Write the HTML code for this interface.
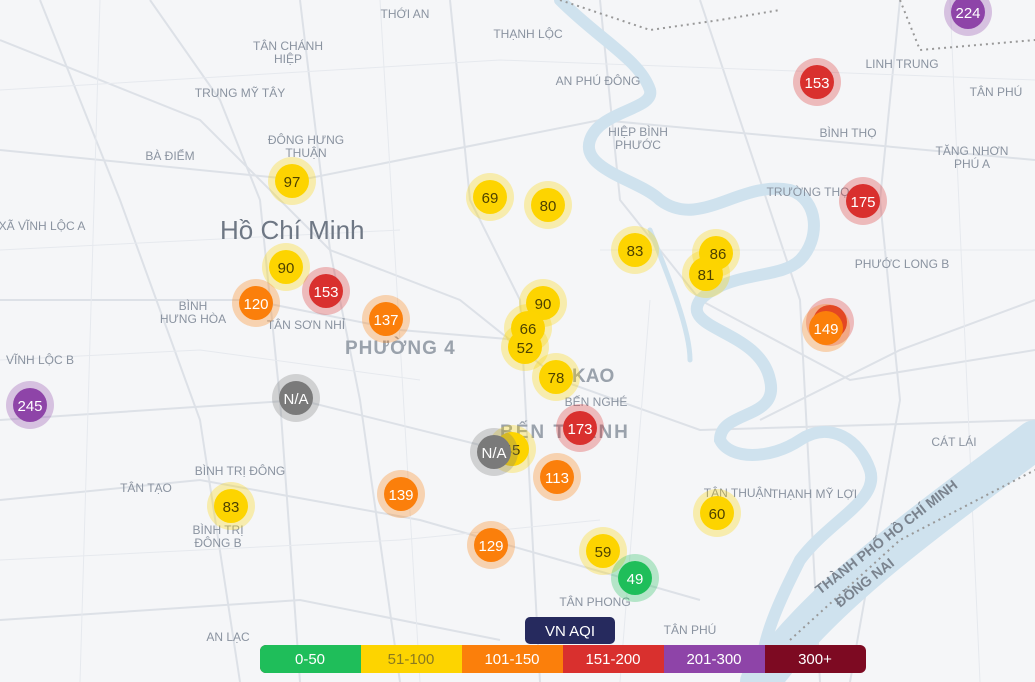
<!DOCTYPE html>
<html><head><meta charset="utf-8"><style>
html,body{margin:0;padding:0;width:1035px;height:682px;overflow:hidden;background:#f5f6f8;font-family:"Liberation Sans","Noto Sans CJK SC",sans-serif}
</style></head><body>
<svg width="1035" height="682" viewBox="0 0 1035 682" xmlns="http://www.w3.org/2000/svg" font-family="Liberation Sans, Noto Sans CJK SC, sans-serif">
<rect width="1035" height="682" fill="#f5f6f8"/>
<g stroke="#dde1e7" stroke-width="2" fill="none">
<path d="M0 40 L200 120 L330 250 L460 300 L560 380 L700 430 L1035 420"/>
<path d="M40 0 L120 200 L200 420 L240 682"/>
<path d="M0 300 L250 300 L400 330 L520 340"/>
<path d="M300 0 L330 250 L360 400 L400 682"/>
<path d="M0 500 L200 480 L420 520 L560 560 L700 600"/>
<path d="M600 0 L620 200 L700 300 L850 380 L1035 350"/>
<path d="M700 0 L750 150 L800 300 L820 682"/>
<path d="M450 0 L470 200 L520 300 L540 682"/>
<path d="M0 620 L300 600 L500 640"/>
<path d="M150 0 L220 100 L260 200 L280 400 L300 682"/>
<path d="M900 0 L880 200 L900 400 L850 682"/>
<path d="M0 150 L300 180 L600 120 L1035 160"/>
<path d="M0 420 L300 400 L500 450"/>
<path d="M760 420 L900 350 L1035 300"/>
</g>
<g stroke="#e6e9ee" stroke-width="1" fill="none">
<path d="M0 90 L500 60 L1035 80"/><path d="M0 250 L400 230"/><path d="M0 560 L400 540 L600 520"/>
<path d="M100 0 L80 682"/><path d="M380 0 L420 682"/><path d="M650 300 L620 682"/><path d="M950 0 L980 682"/>
<path d="M0 360 L200 350 L420 380"/><path d="M600 250 L1035 250"/>
</g>
<g stroke="#cfe2ee" fill="none" stroke-linecap="round">
<path d="M560 0 C600 40 640 60 650 90 C655 110 600 110 590 140 C580 170 640 180 660 200 C700 230 740 180 790 190 C820 200 820 240 800 260 C780 280 730 270 700 300 C680 330 760 330 770 380 C780 420 720 410 720 440 C730 460 770 460 800 440 C830 420 860 440 870 470 C880 500 830 520 800 560 C780 600 760 640 760 682" stroke-width="12"/>
<path d="M760 682 C820 600 900 540 1035 440" stroke-width="40"/>
<path d="M650 230 C670 280 690 330 690 360" stroke-width="5"/>
</g>
<g stroke="#999" stroke-width="2" stroke-dasharray="2 4" fill="none">
<path d="M560 0 L650 30 L720 20 L780 10"/><path d="M900 0 L920 50 L1035 40"/><path d="M790 640 L900 540 L1035 470"/>
</g>
<g fill="#8a93a0" font-size="12" text-anchor="middle">
<text x="405" y="18">THỚI AN</text><text x="528" y="38">THẠNH LỘC</text>
<text x="288" y="50">TÂN CHÁNH</text><text x="288" y="63">HIỆP</text>
<text x="598" y="85">AN PHÚ ĐÔNG</text><text x="902" y="68">LINH TRUNG</text><text x="996" y="96">TÂN PHÚ</text>
<text x="240" y="97">TRUNG MỸ TÂY</text><text x="638" y="136">HIỆP BÌNH</text><text x="638" y="149">PHƯỚC</text>
<text x="848" y="137">BÌNH THỌ</text><text x="306" y="144">ĐÔNG HƯNG</text><text x="306" y="157">THUẬN</text>
<text x="170" y="160">BÀ ĐIỂM</text><text x="972" y="155">TĂNG NHƠN</text><text x="972" y="168">PHÚ A</text>
<text x="808" y="196">TRƯỜNG THỌ</text><text x="42" y="230">XÃ VĨNH LỘC A</text>
<text x="902" y="268">PHƯỚC LONG B</text><text x="193" y="310">BÌNH</text><text x="193" y="323">HƯNG HÒA</text>
<text x="306" y="329">TÂN SƠN NHỈ</text><text x="40" y="364">VĨNH LỘC B</text><text x="596" y="406">BẾN NGHÉ</text>
<text x="954" y="446">CÁT LÁI</text><text x="240" y="475">BÌNH TRỊ ĐÔNG</text><text x="146" y="492">TÂN TẠO</text>
<text x="814" y="498">THẠNH MỸ LỢI</text><text x="218" y="534">BÌNH TRỊ</text><text x="218" y="547">ĐÔNG B</text>
<text x="738" y="497">TÂN THUẬN</text><text x="595" y="606">TÂN PHONG</text><text x="690" y="634">TÂN PHÚ</text>
<text x="228" y="641">AN LẠC</text>
</g>
<text x="220" y="239" font-size="26" fill="#6e7784">Hồ Chí Minh</text>
<text x="345" y="354" font-size="19" font-weight="bold" fill="#9aa2ac" letter-spacing="1">PHƯỜNG 4</text>
<text x="540" y="382" font-size="19" font-weight="bold" fill="#9aa2ac">ĐA KAO</text>
<text x="500" y="438" font-size="19" font-weight="bold" fill="#9aa2ac" letter-spacing="2">BẾN THÀNH</text>
<text x="820" y="595" font-size="14" font-weight="bold" fill="#7a838e" transform="rotate(-38 820 595)">THÀNH PHỐ HỒ CHÍ MINH</text>
<text x="840" y="608" font-size="14" font-weight="bold" fill="#7a838e" transform="rotate(-38 840 608)">ĐỒNG NAI</text>
<g text-anchor="middle" font-size="15">
<circle cx="830" cy="322" r="24" fill="#d9302e" opacity=".3"/><circle cx="830" cy="322" r="17" fill="#d9302e"/>
<g fill="#fdd400"><circle cx="292" cy="181" r="24" opacity=".3"/><circle cx="292" cy="181" r="17"/>
<circle cx="490" cy="197" r="24" opacity=".3"/><circle cx="490" cy="197" r="17"/>
<circle cx="548" cy="205" r="24" opacity=".3"/><circle cx="548" cy="205" r="17"/>
<circle cx="635" cy="250" r="24" opacity=".3"/><circle cx="635" cy="250" r="17"/>
<circle cx="716" cy="253" r="24" opacity=".3"/><circle cx="716" cy="253" r="17"/>
<circle cx="706" cy="274" r="24" opacity=".3"/><circle cx="706" cy="274" r="17"/>
<circle cx="286" cy="267" r="24" opacity=".3"/><circle cx="286" cy="267" r="17"/>
<circle cx="543" cy="303" r="24" opacity=".3"/><circle cx="543" cy="303" r="17"/>
<circle cx="528" cy="328" r="24" opacity=".3"/><circle cx="528" cy="328" r="17"/>
<circle cx="525" cy="347" r="24" opacity=".3"/><circle cx="525" cy="347" r="17"/>
<circle cx="556" cy="377" r="24" opacity=".3"/><circle cx="556" cy="377" r="17"/>
<circle cx="512" cy="449" r="24" opacity=".3"/><circle cx="512" cy="449" r="17"/>
<circle cx="231" cy="506" r="24" opacity=".3"/><circle cx="231" cy="506" r="17"/>
<circle cx="717" cy="513" r="24" opacity=".3"/><circle cx="717" cy="513" r="17"/>
<circle cx="603" cy="551" r="24" opacity=".3"/><circle cx="603" cy="551" r="17"/></g>
<g fill="#4e4200"><text x="292" y="187">97</text><text x="490" y="203">69</text><text x="548" y="211">80</text><text x="635" y="256">83</text><text x="718" y="259">86</text><text x="706" y="280">81</text><text x="286" y="273">90</text><text x="543" y="309">90</text><text x="528" y="334">66</text><text x="525" y="353">52</text><text x="556" y="383">78</text><text x="512" y="455">45</text><text x="231" y="512">83</text><text x="717" y="519">60</text><text x="603" y="557">59</text></g>
<g fill="#fb7f0b"><circle cx="256" cy="303" r="24" opacity=".3"/><circle cx="256" cy="303" r="17"/>
<circle cx="386" cy="319" r="24" opacity=".3"/><circle cx="386" cy="319" r="17"/>
<circle cx="826" cy="328" r="24" opacity=".3"/><circle cx="826" cy="328" r="17"/>
<circle cx="401" cy="494" r="24" opacity=".3"/><circle cx="401" cy="494" r="17"/>
<circle cx="557" cy="477" r="24" opacity=".3"/><circle cx="557" cy="477" r="17"/>
<circle cx="491" cy="545" r="24" opacity=".3"/><circle cx="491" cy="545" r="17"/></g>
<g fill="#fff"><text x="256" y="309">120</text><text x="386" y="325">137</text><text x="826" y="334">149</text><text x="401" y="500">139</text><text x="557" y="483">113</text><text x="491" y="551">129</text></g>
<g fill="#d9302e"><circle cx="326" cy="291" r="24" opacity=".3"/><circle cx="326" cy="291" r="17"/>
<circle cx="817" cy="82" r="24" opacity=".3"/><circle cx="817" cy="82" r="17"/>
<circle cx="863" cy="201" r="24" opacity=".3"/><circle cx="863" cy="201" r="17"/>
<circle cx="580" cy="428" r="24" opacity=".3"/><circle cx="580" cy="428" r="17"/></g>
<g fill="#fff"><text x="326" y="297">153</text><text x="817" y="88">153</text><text x="863" y="207">175</text><text x="580" y="434">173</text></g>
<g fill="#8e44a8"><circle cx="30" cy="405" r="24" opacity=".3"/><circle cx="30" cy="405" r="17"/>
<circle cx="968" cy="12" r="24" opacity=".3"/><circle cx="968" cy="12" r="17"/></g>
<g fill="#fff"><text x="30" y="411">245</text><text x="968" y="18">224</text></g>
<circle cx="635" cy="578" r="24" fill="#1fbe5a" opacity=".3"/><circle cx="635" cy="578" r="17" fill="#1fbe5a"/>
<text x="635" y="584" fill="#fff">49</text>
<g fill="#7a7a7a"><circle cx="296" cy="398" r="24" opacity=".3"/><circle cx="296" cy="398" r="17"/>
<circle cx="494" cy="452" r="24" opacity=".3"/><circle cx="494" cy="452" r="17"/></g>
<g fill="#fff"><text x="296" y="404">N/A</text><text x="494" y="458">N/A</text></g>
</g>
<rect x="525" y="617" width="90" height="27" rx="5" fill="#262a5e"/>
<text x="570" y="636" font-size="15" fill="#fff" text-anchor="middle">VN AQI</text>
<rect x="260" y="645" width="606" height="28" rx="6" fill="#7d0a22"/>
<path d="M266 645 H361 V673 H266 A6 6 0 0 1 260 667 V651 A6 6 0 0 1 266 645Z" fill="#1fbe5a"/>
<rect x="361" y="645" width="101" height="28" fill="#fdd400"/>
<rect x="462" y="645" width="101" height="28" fill="#fb7f0b"/>
<rect x="563" y="645" width="101" height="28" fill="#d9302e"/>
<rect x="664" y="645" width="101" height="28" fill="#8e44a8"/>
<g font-size="15" text-anchor="middle">
<text x="310" y="664" fill="#fff">0-50</text><text x="411" y="664" fill="#8a7a20">51-100</text>
<text x="512" y="664" fill="#fff">101-150</text><text x="613" y="664" fill="#fff">151-200</text>
<text x="714" y="664" fill="#fff">201-300</text><text x="815" y="664" fill="#fff">300+</text>
</g>
</svg>
</body></html>
